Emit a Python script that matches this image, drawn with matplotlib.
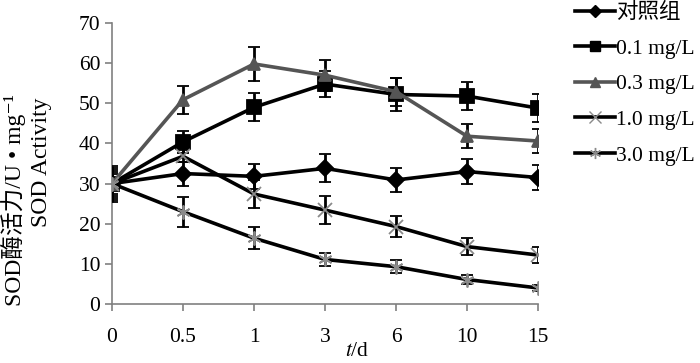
import matplotlib.pyplot as plt
from matplotlib.lines import Line2D
import numpy as np

plt.rcParams['font.family'] = ['Liberation Serif', 'Noto Sans CJK SC', 'DejaVu Sans']
plt.rcParams['mathtext.fontset'] = 'stix'

days = ['0', '0.5', '1', '3', '6', '10', '15']

ctrl = [30.0, 32.5, 31.8, 33.8, 30.9, 33.0, 31.5]
ctrl_err = [3.0, 3.0, 3.1, 3.5, 3.1, 3.2, 3.2]
c01 = [30.0, 40.4, 49.0, 54.8, 52.2, 51.8, 48.8]
c01_err = [2.5, 2.7, 3.5, 3.3, 4.1, 3.5, 3.4]
c03 = [30.0, 50.9, 59.8, 57.0, 52.9, 41.8, 40.6]
c03_err = [4.5, 3.5, 4.2, 3.9, 3.5, 3.0, 2.9]
c10 = [30.0, 36.8, 27.4, 23.4, 19.3, 14.3, 12.2]
c10_err = [3.5, 1.5, 3.4, 3.4, 2.7, 2.1, 1.9]
c30 = [30.0, 23.0, 16.4, 11.1, 9.3, 6.1, 4.0]
c30_err = [4.0, 3.7, 2.7, 1.7, 1.6, 1.1, 0.8]

labels = ['对照组', '0.1 mg/L', '0.3 mg/L', '1.0 mg/L', '3.0 mg/L']

fig = plt.figure(figsize=(7, 3.63), dpi=100)
ax = fig.add_axes([0.16, 0.1625, 0.6086, 0.7741])
x = np.arange(len(days))

styles = [
    (ctrl, ctrl_err, 'D', 'black', 'black', 8, 6),
    (c01, c01_err, 's', 'black', 'black', 10, 7),
    (c03, c03_err, '^', '#555555', '#555555', 9, 7),
    (c10, c10_err, 'x', 'black', '#8a8a8a', 10, 8),
    (c30, c30_err, (6, 2, 0), 'black', '#8a8a8a', 10, 8),
]
handles = []
for (y, e, m, lc, mc, ms, lms), lab in zip(styles, labels):
    ax.errorbar(x, y, yerr=e, color=lc, lw=2.6, marker=m, ms=ms,
                mfc=mc, mec=mc, mew=1.3, ecolor='black', elinewidth=2.0,
                capsize=4, capthick=2.0, zorder=3)
    handles.append(Line2D([], [], color=lc, lw=2.6, marker=m, ms=lms,
                          mfc=mc, mec=mc, mew=1.0, label=lab))

ax.set_xlim(0, 6)
ax.set_ylim(0, 70)
ax.set_yticks(range(0, 71, 10))
ax.set_xticks(x)
ax.set_xticklabels(days)
ax.tick_params(labelsize=15.5, length=5, color='#808080', width=1.2)
ax.tick_params(axis='x', pad=12)
for s in ['top', 'right']:
    ax.spines[s].set_visible(False)
for s in ['left', 'bottom']:
    ax.spines[s].set_color('#808080')
    ax.spines[s].set_linewidth(1.2)
ax.patch.set_alpha(0)

fig.text(357 / 700, 1 - 352 / 363, '$t$/d', fontsize=15.5, ha='center', va='center')
fig.text(14 / 700, 1 - 200 / 363, 'SOD酶活力/U • mg⁻¹', fontsize=17, rotation=90,
         ha='center', va='center')
fig.text(41 / 700, 1 - 162 / 363, 'SOD Activity', fontsize=17, rotation=90,
         ha='center', va='center')

fig.legend(handles=handles, loc='upper left', bbox_to_anchor=(575 / 700, 1 - 3 / 363),
           frameon=False, fontsize=15.5, handlelength=1.86, handletextpad=0.05,
           labelspacing=0.72, borderpad=0, borderaxespad=0)

fig.savefig('out.png', dpi=100)
